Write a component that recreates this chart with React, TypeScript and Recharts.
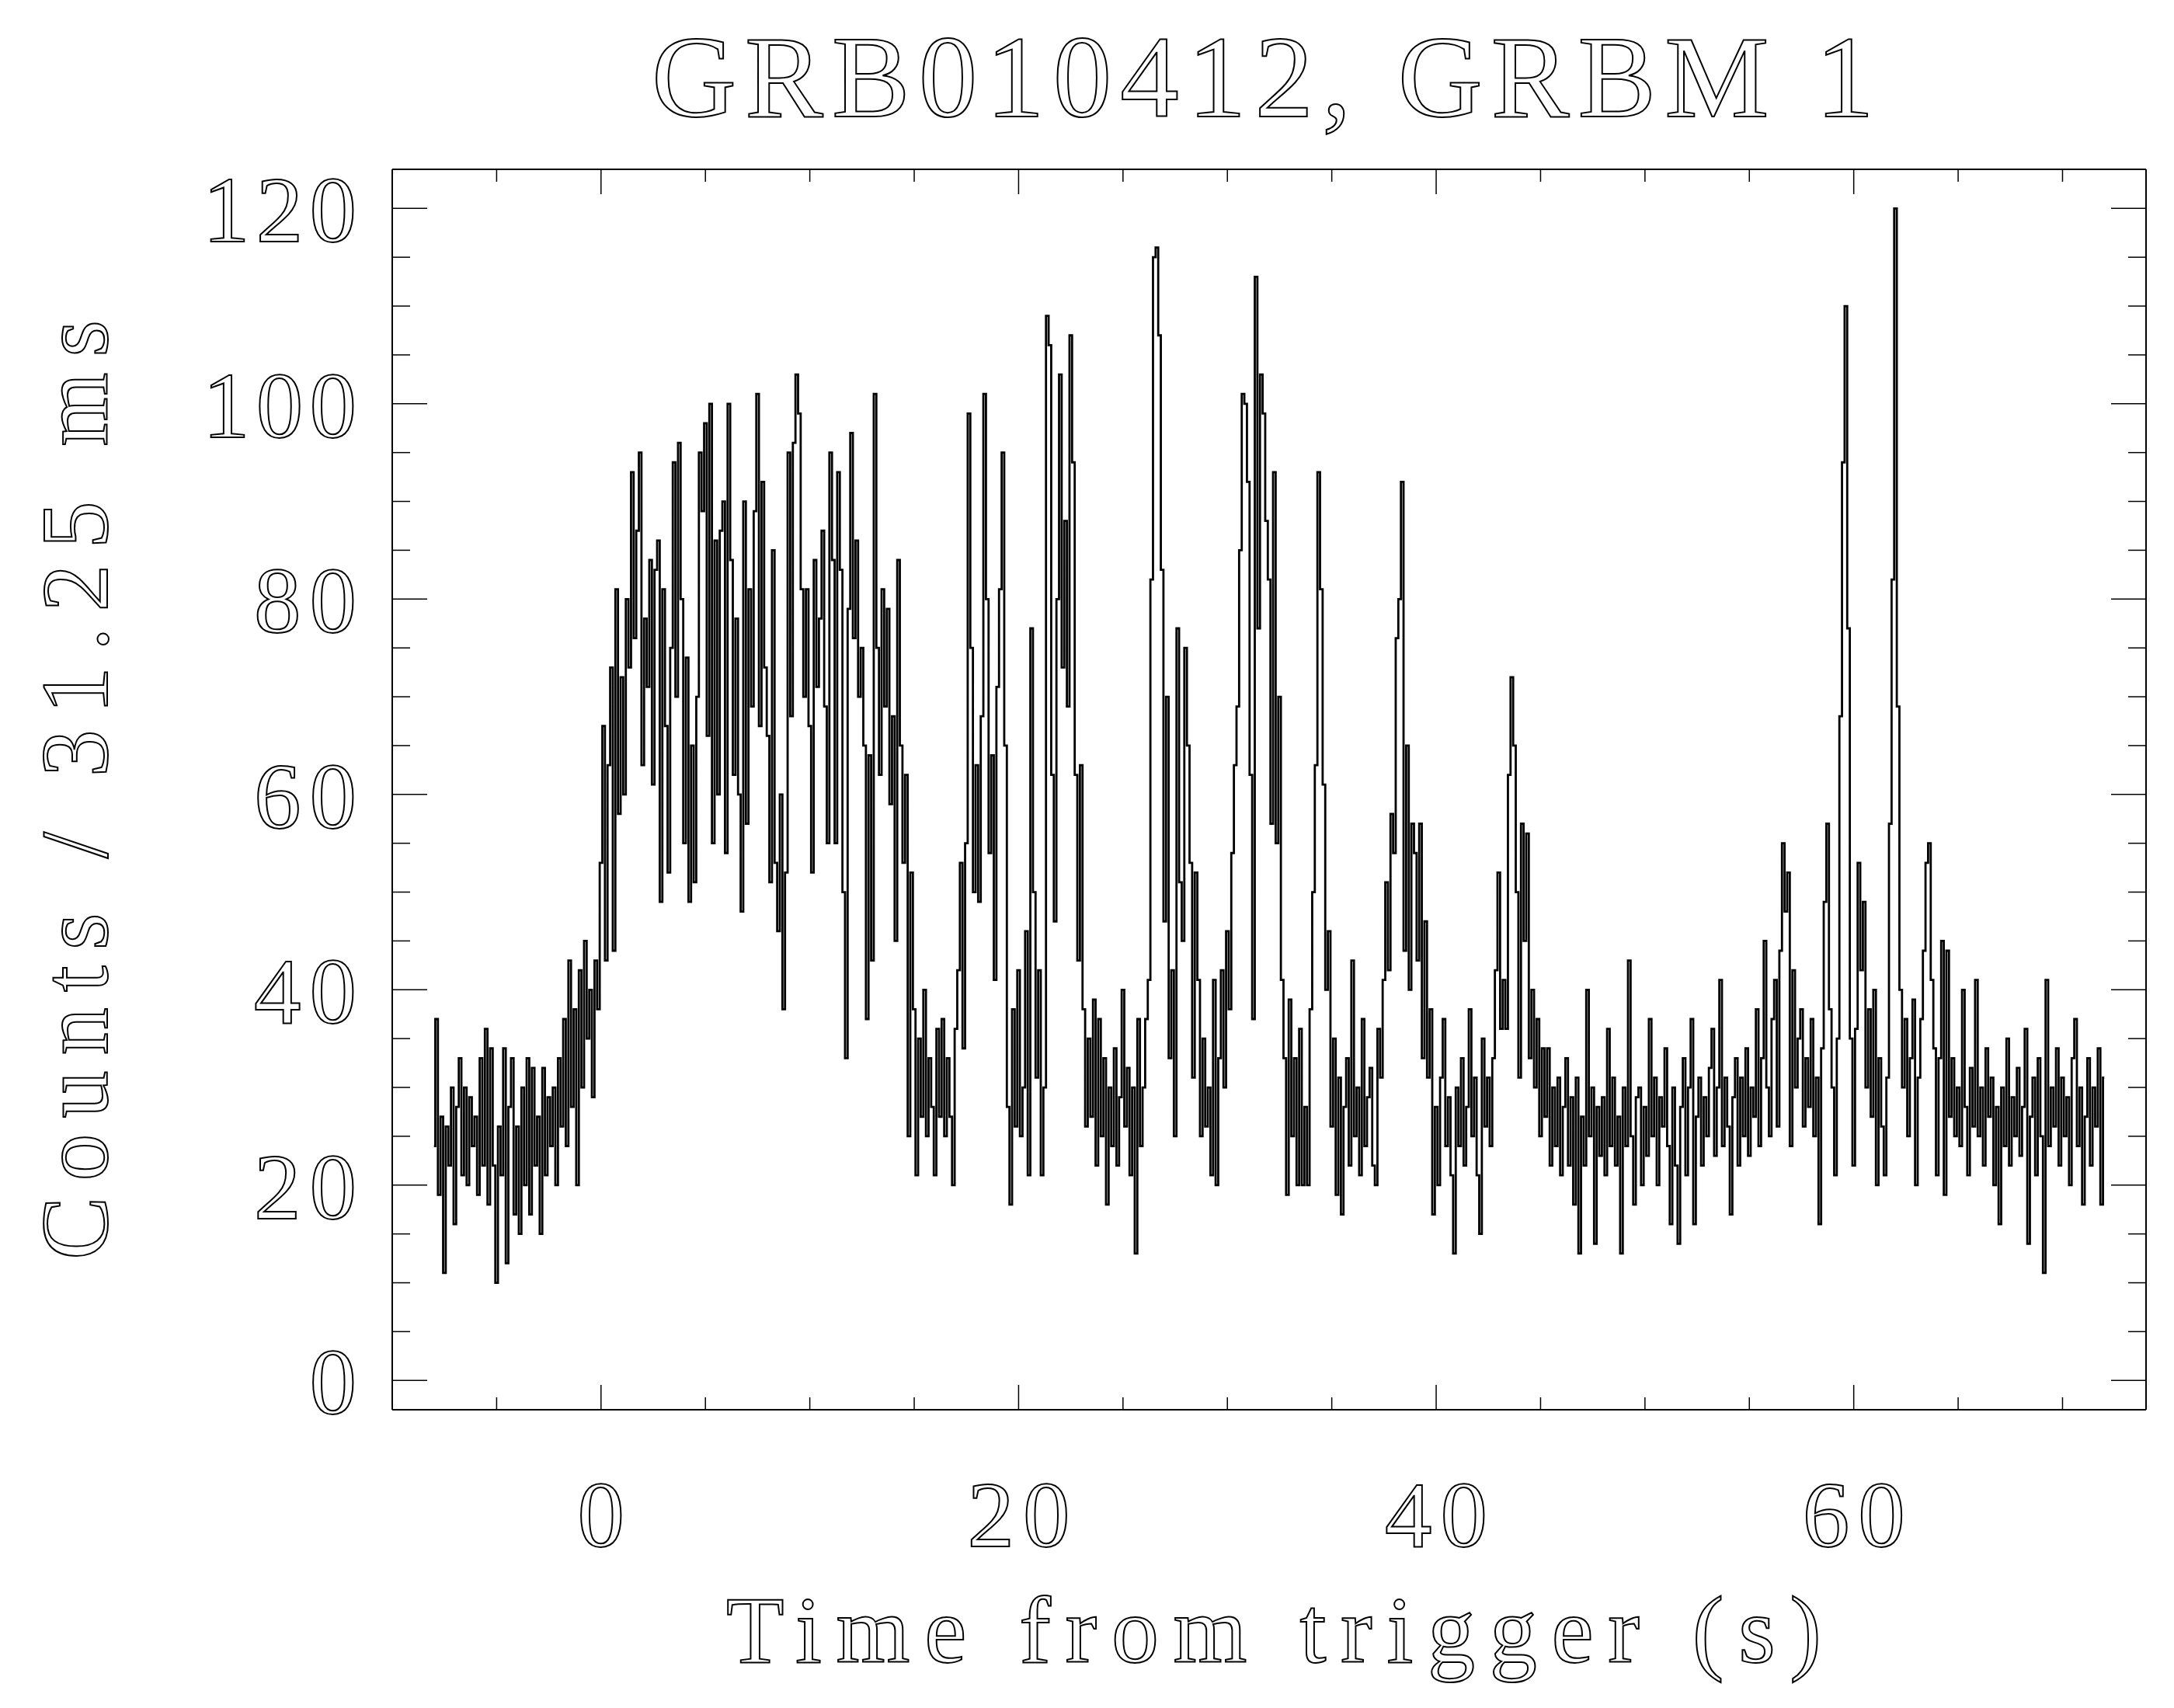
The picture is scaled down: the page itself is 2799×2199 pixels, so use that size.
import React from 'react'
import { LineChart, Line, XAxis, YAxis } from 'recharts'

// ── Light curve, counts per bin (bins of 0.125 s from -8 s) ──

const BIN_START = -8
const BIN_WIDTH = 0.125

const preTrigger = [
  24, 37, 19, 27, 11, 26, 22, 30, 16, 28, 33, 21, 30, 20, 29, 24,
  27, 19, 33, 22, 36, 18, 34, 22, 10, 26, 21, 34, 12, 28, 33, 17,
  26, 15, 30, 20, 33, 17, 32, 22, 27, 15, 32, 21, 29, 24, 30, 20,
  33, 26, 37, 24, 43, 28, 38, 20, 42, 30, 45, 35, 40, 29, 43, 38,
]

const burstRise = [
  53, 67, 43, 63, 73, 44, 81, 58, 72, 60, 80, 73, 93, 76, 87, 95,
  63, 78, 71, 84, 61, 83, 86, 49, 81, 67, 52, 75, 94, 70, 96, 80,
  55, 74, 49, 65, 51, 70, 95, 89, 98, 66, 100, 55, 86, 60, 87, 90,
  54, 100, 84, 62, 78, 60, 48, 90, 57, 81, 69, 89, 101, 67, 92, 73,
]

const burstMain = [
  66, 51, 85, 53, 46, 60, 38, 52, 95, 68, 96, 103, 99, 81, 70, 81,
  67, 52, 84, 71, 78, 87, 69, 55, 95, 84, 55, 93, 83, 50, 33, 79,
  97, 76, 86, 70, 75, 65, 37, 64, 43, 101, 75, 62, 81, 69, 79, 59,
  68, 45, 84, 65, 53, 62, 25, 52, 38, 21, 35, 27, 40, 25, 33, 28,
]

const pulses16 = [
  21, 36, 27, 37, 25, 33, 27, 20, 36, 42, 53, 34, 55, 99, 75, 50,
  63, 49, 68, 101, 80, 54, 64, 41, 71, 81, 95, 65, 28, 18, 38, 26,
  42, 25, 30, 46, 21, 77, 50, 31, 42, 21, 30, 109, 106, 62, 47, 80,
  103, 73, 88, 69, 107, 94, 62, 43, 63, 38, 26, 35, 27, 39, 22, 37,
]

const pulses24 = [
  25, 33, 18, 30, 24, 34, 22, 29, 40, 26, 32, 21, 30, 13, 37, 24,
  30, 37, 41, 82, 115, 116, 107, 83, 47, 70, 33, 42, 25, 77, 51, 45,
  75, 65, 53, 31, 52, 41, 25, 35, 26, 30, 21, 41, 20, 33, 42, 30,
  46, 38, 54, 63, 69, 85, 101, 100, 92, 62, 37, 113, 77, 103, 99, 88,
]

const pulses32 = [
  82, 57, 93, 55, 70, 41, 33, 19, 39, 25, 33, 20, 36, 20, 28, 20,
  38, 50, 63, 93, 81, 61, 40, 46, 26, 35, 19, 31, 17, 28, 33, 22,
  43, 25, 30, 21, 37, 24, 29, 32, 22, 20, 36, 31, 41, 51, 42, 58,
  54, 76, 80, 92, 44, 65, 40, 57, 54, 43, 57, 33, 47, 31, 38, 17,
]

const tail40 = [
  28, 20, 31, 37, 24, 29, 21, 13, 30, 24, 33, 22, 28, 38, 25, 31,
  21, 15, 35, 26, 31, 24, 33, 42, 52, 36, 41, 36, 62, 72, 65, 50,
  31, 57, 45, 56, 33, 40, 30, 37, 25, 34, 27, 34, 22, 30, 24, 31,
  21, 28, 33, 22, 29, 18, 31, 13, 27, 22, 40, 25, 30, 14, 28, 23,
]

const tail48 = [
  29, 21, 36, 24, 31, 22, 27, 13, 30, 24, 43, 25, 18, 29, 30, 20,
  28, 23, 37, 25, 31, 20, 29, 26, 34, 24, 16, 30, 22, 14, 28, 33,
  21, 30, 37, 16, 27, 31, 22, 29, 25, 32, 36, 23, 30, 41, 24, 31,
  26, 17, 29, 33, 22, 31, 25, 34, 23, 30, 27, 38, 24, 33, 45, 30,
]

const spikes56 = [
  25, 37, 41, 26, 44, 55, 48, 52, 24, 42, 30, 35, 38, 26, 33, 28,
  37, 25, 31, 16, 34, 49, 57, 38, 30, 21, 35, 68, 94, 110, 77, 35,
  22, 36, 53, 42, 49, 30, 38, 27, 40, 20, 33, 26, 21, 31, 57, 82,
  120, 69, 40, 30, 37, 25, 33, 39, 20, 31, 37, 44, 53, 55, 41, 34,
]

const tail64 = [
  21, 33, 45, 19, 44, 27, 33, 25, 30, 24, 40, 28, 21, 32, 26, 41,
  25, 30, 22, 34, 27, 31, 20, 28, 16, 30, 24, 35, 22, 29, 25, 32,
  23, 28, 36, 14, 27, 31, 21, 33, 25, 11, 41, 24, 30, 26, 34, 22,
  31, 25, 29, 20, 33, 37, 24, 30, 18, 27, 33, 22, 30, 26, 34, 18,
  31,
]

const counts = [
  ...preTrigger, ...burstRise, ...burstMain, ...pulses16, ...pulses24,
  ...pulses32, ...tail40, ...tail48, ...spikes56, ...tail64,
]

const lightCurve = counts.map((c, i) => ({ t: BIN_START + i * BIN_WIDTH, c }))

// ── Axes ──────────────────────────────────────────────────────────────────────

const X_DOMAIN = [-10, 74]
const Y_DOMAIN = [-3, 124]
const xTicks = [-5, 0, 5, 10, 15, 20, 25, 30, 35, 40, 45, 50, 55, 60, 65, 70]
const xLabelTicks = [0, 20, 40, 60]
const yTicks = [0, 5, 10, 15, 20, 25, 30, 35, 40, 45, 50, 55, 60, 65, 70, 75, 80, 85, 90, 95, 100, 105, 110, 115, 120]
const yLabelTicks = [0, 20, 40, 60, 80, 100, 120]

const TITLE = 'GRB010412, GRBM 1'
const X_LABEL = 'Time from trigger (s)'
const Y_LABEL = 'Counts / 31.25 ms'

// ── Layout ────────────────────────────────────────────────────────────────────

const W = 2799
const H = 2199
// axes are 1px thick bands, so the plot box ends up at 505..2763 x 218..1815
const margin = { top: 217, right: 35, bottom: 383, left: 504 }

const FONT = '"Liberation Serif", "Times New Roman", serif'
const outlineText = { fontFamily: FONT, fill: '#fff', stroke: '#000', strokeWidth: 2 }

const X_MAJOR = 32
const X_MINOR = 16
const Y_MAJOR = 45
const Y_MINOR = 23
const DIGIT_ADVANCE = 66

function BottomTick(props: any) {
  const { x, y, payload } = props
  const major = xLabelTicks.includes(payload.value)
  const label = String(payload.value)
  return (
    <g>
      <line x1={x} x2={x} y1={y} y2={y - (major ? X_MAJOR : X_MINOR)} stroke="#000" strokeWidth={1.5} />
      {major && (
        <text
          x={x}
          y={y + 176}
          textAnchor="middle"
          fontSize={121}
          textLength={label.length * DIGIT_ADVANCE}
          lengthAdjust="spacing"
          style={outlineText}
        >
          {label}
        </text>
      )}
    </g>
  )
}

function TopTick(props: any) {
  const { x, y, payload } = props
  const major = xLabelTicks.includes(payload.value)
  return <line x1={x} x2={x} y1={y} y2={y + (major ? X_MAJOR : X_MINOR)} stroke="#000" strokeWidth={1.5} />
}

function LeftTick(props: any) {
  const { x, y, payload } = props
  const major = yLabelTicks.includes(payload.value)
  const label = String(payload.value)
  return (
    <g>
      <line x1={x} x2={x + (major ? Y_MAJOR : Y_MINOR)} y1={y} y2={y} stroke="#000" strokeWidth={1.5} />
      {major && (
        <text
          x={x - 46}
          y={y + 43}
          textAnchor="end"
          fontSize={121}
          textLength={label.length * DIGIT_ADVANCE}
          lengthAdjust="spacing"
          style={outlineText}
        >
          {label}
        </text>
      )}
    </g>
  )
}

function RightTick(props: any) {
  const { x, y, payload } = props
  const major = yLabelTicks.includes(payload.value)
  return <line x1={x} x2={x - (major ? Y_MAJOR : Y_MINOR)} y1={y} y2={y} stroke="#000" strokeWidth={1.5} />
}

const TitleLabel = () => (
  <text x={1626} y={150} textAnchor="middle" fontSize={151} textLength={1574} lengthAdjust="spacing" style={outlineText}>
    {TITLE}
  </text>
)

const XAxisLabel = () => (
  <text x={1640} y={2140} textAnchor="middle" fontSize={122} textLength={1410} lengthAdjust="spacing" style={outlineText}>
    {X_LABEL}
  </text>
)

const YAxisLabel = () => (
  <text
    x={138}
    y={1017}
    transform="rotate(-90, 138, 1017)"
    textAnchor="middle"
    fontSize={122}
    textLength={1210}
    lengthAdjust="spacing"
    style={outlineText}
  >
    {Y_LABEL}
  </text>
)

const frame = { stroke: '#000', strokeWidth: 2 }

export default function App() {
  return (
    <div style={{ position: 'absolute', left: 0, top: 0, width: W, height: H, background: '#fff' }}>
      <LineChart width={W} height={H} data={lightCurve} margin={margin}>
        <XAxis
          dataKey="t"
          type="number"
          domain={X_DOMAIN}
          allowDataOverflow
          ticks={xTicks}
          interval={0}
          height={1}
          tickSize={0}
          tickMargin={0}
          tickLine={false}
          axisLine={frame}
          tick={<BottomTick />}
          label={<XAxisLabel />}
        />
        <XAxis
          xAxisId="top"
          orientation="top"
          dataKey="t"
          type="number"
          domain={X_DOMAIN}
          allowDataOverflow
          ticks={xTicks}
          interval={0}
          height={1}
          tickSize={0}
          tickMargin={0}
          tickLine={false}
          axisLine={frame}
          tick={<TopTick />}
          label={<TitleLabel />}
        />
        <YAxis
          type="number"
          domain={Y_DOMAIN}
          allowDataOverflow
          ticks={yTicks}
          interval={0}
          width={1}
          tickSize={0}
          tickMargin={0}
          tickLine={false}
          axisLine={frame}
          tick={<LeftTick />}
          label={<YAxisLabel />}
        />
        <YAxis
          yAxisId="right"
          orientation="right"
          type="number"
          domain={Y_DOMAIN}
          allowDataOverflow
          ticks={yTicks}
          interval={0}
          width={1}
          tickSize={0}
          tickMargin={0}
          tickLine={false}
          axisLine={frame}
          tick={<RightTick />}
        />
        <Line
          type="step"
          dataKey="c"
          stroke="#000"
          strokeWidth={2.8}
          dot={false}
          isAnimationActive={false}
        />
      </LineChart>
    </div>
  )
}
